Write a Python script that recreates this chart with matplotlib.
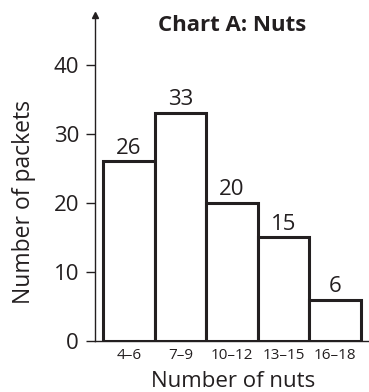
import matplotlib.pyplot as plt

# дані діаграми
groups = ['4–6', '7–9', '10–12', '13–15', '16–18']
packets = [26, 33, 20, 15, 6]
y_ticks = [0, 10, 20, 30, 40]

ink = '#231f20'
plt.rcParams['font.family'] = ['Open Sans', 'DejaVu Sans']
plt.rcParams['text.color'] = ink

fig = plt.figure(figsize=(3.69, 3.92), dpi=100)
ax = fig.add_axes([0.2575, 0.1301, 0.7398, 0.8316])

pos = list(range(len(groups)))
ax.bar(pos, packets, width=1.0, color='white', edgecolor=ink, linewidth=2.2)

for x, v in zip(pos, packets):
    ax.annotate(str(v), (x, v), xytext=(0, 2), textcoords='offset points',
                ha='center', va='bottom', fontsize=16, color=ink)

ax.set_xlim(-0.657, 4.637)
ax.set_ylim(0, 47.2)
ax.set_yticks(y_ticks)
ax.set_xticks(pos)
ax.set_xticklabels(groups, fontsize=11, color=ink)
ax.tick_params(axis='y', length=6.5, width=1, pad=5, labelsize=16, colors=ink)
ax.tick_params(axis='x', length=0, pad=5)

for s in ['top', 'right']:
    ax.spines[s].set_visible(False)
for s in ['left', 'bottom']:
    ax.spines[s].set_color(ink)
    ax.spines[s].set_linewidth(1)

# стрілка на осі y
ax.plot(0, 1, marker='^', color=ink, markersize=5, transform=ax.transAxes, clip_on=False)

fig.text(0.631, 0.027, 'Number of nuts', fontsize=16, ha='center', va='center', color=ink)
fig.text(0.065, 0.485, 'Number of packets', fontsize=16.5, rotation=90,
         ha='center', va='center', color=ink)
fig.text(0.629, 0.934, 'Chart A: Nuts', fontsize=16, fontweight='bold',
         ha='center', va='center', color=ink)

fig.savefig('out.png', dpi=100)
